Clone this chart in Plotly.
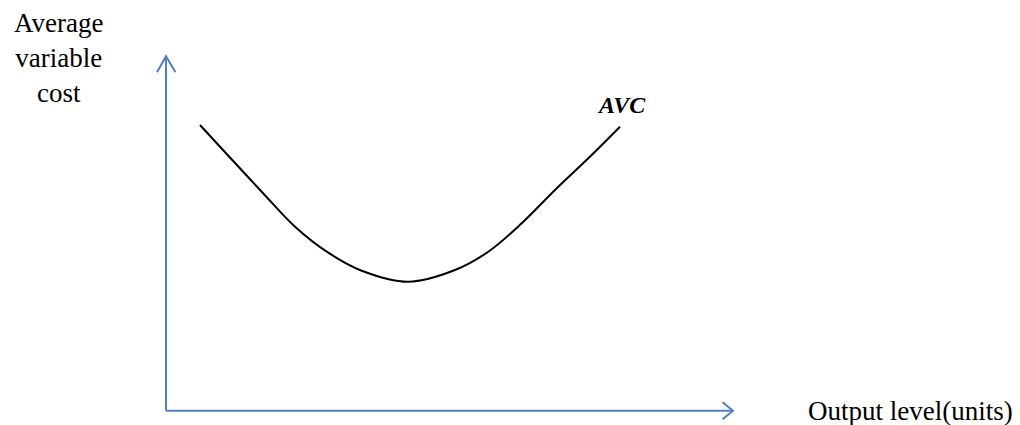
import plotly.graph_objects as go

# AVC curve (output level, average variable cost)
output_level = [0.68, 1.914, 2.58, 3.246, 3.914, 4.846, 5.78, 6.446, 7.114, 7.78, 8.446, 9.08]
avc_values   = [5.714, 4.38, 3.68, 3.16, 2.80, 2.58, 2.814, 3.18, 3.748, 4.414, 5.048, 5.68]

x_axis_len = 11.34
y_axis_len = 7.09

AXIS_COLOR = "#4f81bd"
SERIF = "Liberation Serif, Times New Roman, serif"

fig = go.Figure()

# axes
fig.add_trace(go.Scatter(x=[0, x_axis_len], y=[0, 0], mode="lines",
                         line=dict(color=AXIS_COLOR, width=2), hoverinfo="skip"))
fig.add_trace(go.Scatter(x=[0, 0], y=[0, y_axis_len], mode="lines",
                         line=dict(color=AXIS_COLOR, width=2), hoverinfo="skip"))
# open arrowheads
fig.add_trace(go.Scatter(x=[x_axis_len - 0.21, x_axis_len, x_axis_len - 0.21],
                         y=[0.17, 0, -0.17], mode="lines",
                         line=dict(color=AXIS_COLOR, width=2), hoverinfo="skip"))
fig.add_trace(go.Scatter(x=[-0.18, 0, 0.19],
                         y=[y_axis_len - 0.32, y_axis_len, y_axis_len - 0.32], mode="lines",
                         line=dict(color=AXIS_COLOR, width=2), hoverinfo="skip"))

# AVC curve
fig.add_trace(go.Scatter(x=output_level, y=avc_values, mode="lines",
                         line=dict(color="black", width=2, shape="spline", smoothing=1.0),
                         hoverinfo="skip"))

fig.add_annotation(x=9.1, y=6.11, text="<b><i>AVC</i></b>", showarrow=False,
                   font=dict(family=SERIF, size=24, color="black"))
fig.add_annotation(x=14.88, y=0.0, text="Output level(units)", showarrow=False,
                   font=dict(family=SERIF, size=27, color="black"))
fig.add_annotation(x=-2.16, y=7.05, text="Average<br>variable<br>cost", showarrow=False,
                   align="center", yanchor="middle",
                   font=dict(family=SERIF, size=27, color="black"))

fig.update_layout(
    width=1012, height=417,
    margin=dict(l=0, r=0, t=0, b=0),
    paper_bgcolor="white", plot_bgcolor="white",
    showlegend=False,
    xaxis=dict(range=[-3.16, 17.08], visible=False, fixedrange=True),
    yaxis=dict(range=[-0.286, 8.054], visible=False, fixedrange=True),
)

fig.write_html("out.html")
